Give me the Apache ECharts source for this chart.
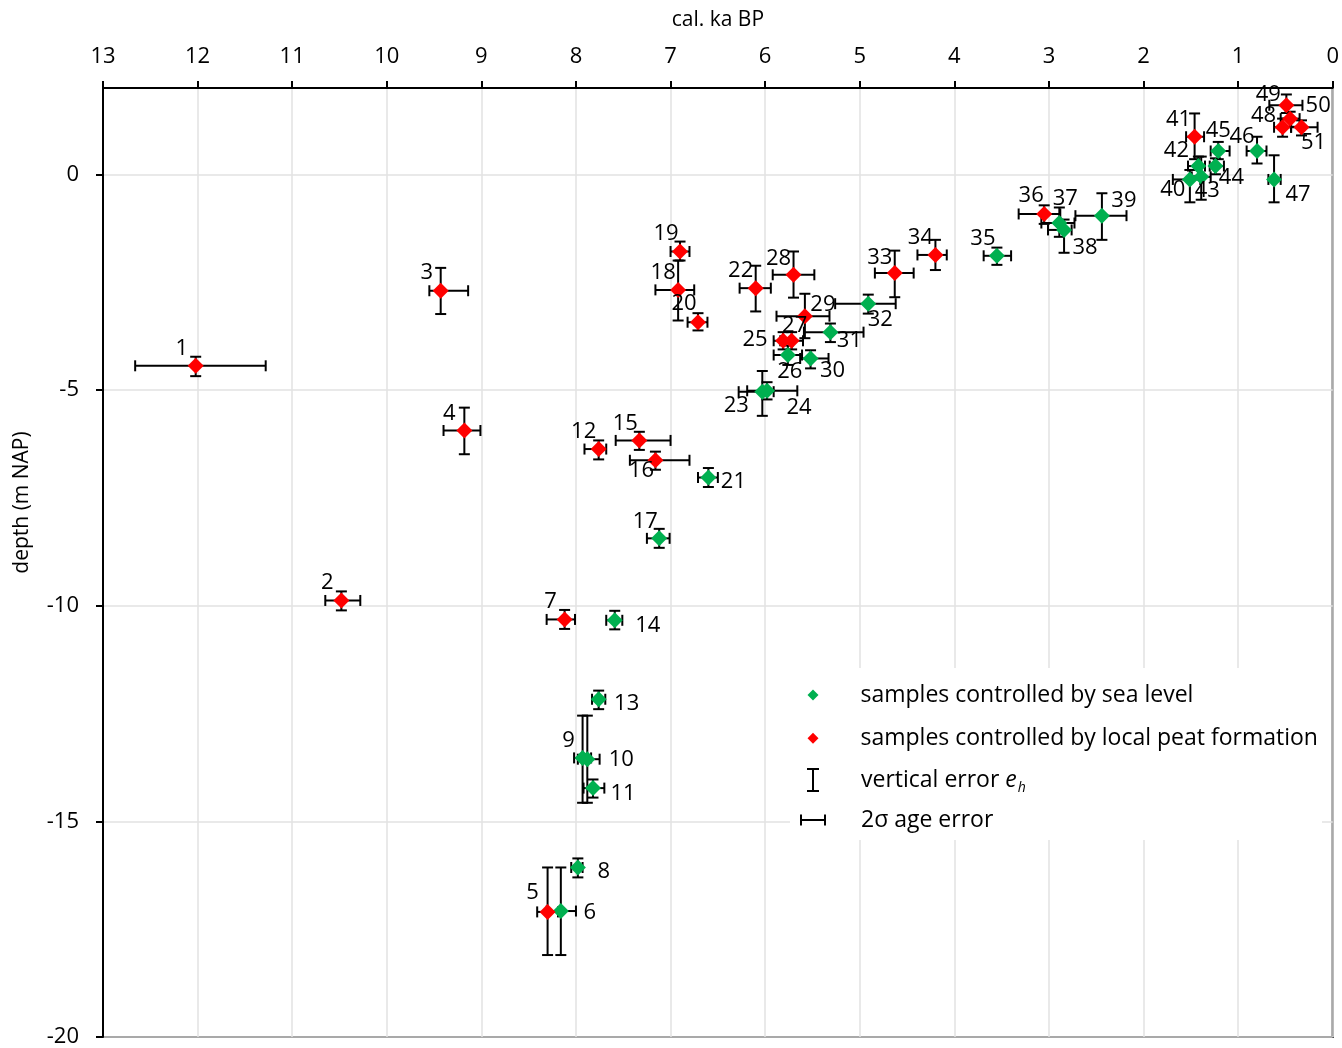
<!DOCTYPE html>
<html><head><meta charset="utf-8">
<script src="https://cdn.jsdelivr.net/npm/echarts@6/dist/echarts.min.js"></script>
<style>html,body{margin:0;padding:0;background:#fff}#c{width:1342px;height:1048px}</style>
</head><body><div id="c"></div>
<script>
// ---------------- data ----------------
const sampleId = [1,2,3,4,5,6,7,8,9,10,11,12,13,14,15,16,17,18,19,20,21,22,23,24,25,26,27,28,29,30,31,32,33,34,35,36,37,38,39,40,41,42,43,44,45,46,47,48,49,50,51];
const control = ['peat','peat','peat','peat','peat','sea','peat','sea','sea','sea','sea','peat','sea','sea','peat','peat','sea','peat','peat','peat','sea','peat','sea','sea','peat','sea','peat','peat','peat','sea','sea','sea','peat','peat','sea','peat','sea','sea','sea','sea','peat','sea','sea','sea','sea','sea','sea','peat','peat','peat','peat'];
const ageKa = [12.02,10.48,9.43,9.18,8.30,8.16,8.12,7.98,7.93,7.88,7.82,7.76,7.76,7.59,7.33,7.16,7.12,6.92,6.90,6.71,6.60,6.10,6.03,5.98,5.81,5.76,5.72,5.70,5.58,5.52,5.31,4.91,4.63,4.20,3.55,3.05,2.89,2.84,2.44,1.51,1.46,1.42,1.39,1.24,1.21,0.80,0.62,0.53,0.49,0.45,0.33];
const ageOld = [12.66,10.65,9.55,9.40,8.41,8.31,8.31,8.05,8.02,7.98,7.92,7.91,7.83,7.68,7.58,7.43,7.25,7.16,7.00,6.82,6.71,6.27,6.28,6.19,5.91,5.91,5.84,5.92,5.88,5.63,5.59,5.26,4.84,4.39,3.69,3.32,3.08,3.01,2.72,1.69,1.55,1.53,1.49,1.30,1.29,0.91,0.68,0.62,0.67,0.55,0.44];
const ageYoung = [11.28,10.28,9.14,9.01,8.19,8.00,8.01,7.93,7.84,7.75,7.70,7.68,7.69,7.51,7.00,6.80,7.01,6.75,6.80,6.61,6.50,5.94,5.91,5.66,5.71,5.61,5.60,5.48,5.32,5.33,4.96,4.62,4.43,4.08,3.40,2.88,2.73,2.76,2.18,1.40,1.36,1.35,1.29,1.15,1.09,0.70,0.55,0.44,0.32,0.35,0.16];
const depthM = [-4.44,-9.88,-2.70,-5.94,-17.10,-17.08,-10.32,-16.07,-13.53,-13.56,-14.23,-6.37,-12.17,-10.34,-6.17,-6.63,-8.44,-2.68,-1.79,-3.43,-7.03,-2.64,-5.04,-5.02,-3.86,-4.19,-3.86,-2.33,-3.29,-4.27,-3.66,-3.00,-2.29,-1.87,-1.89,-0.92,-1.13,-1.29,-0.96,-0.12,0.87,0.19,-0.06,0.19,0.54,0.54,-0.12,1.09,1.60,1.29,1.09];
const depthTop = [-4.23,-9.67,-2.17,-5.41,-16.07,-16.07,-10.10,-15.86,-12.55,-12.55,-14.03,-6.17,-11.97,-10.12,-5.97,-6.43,-8.22,-2.00,-1.56,-3.22,-6.81,-2.12,-4.56,-4.82,-3.66,-3.97,-3.66,-1.79,-2.77,-4.08,-3.46,-2.79,-1.77,-1.52,-1.70,-0.72,-0.77,-1.05,-0.44,0.10,1.41,0.41,0.41,0.37,0.75,0.87,0.44,1.29,1.85,1.45,1.25];
const depthBottom = [-4.68,-10.11,-3.24,-6.49,-18.10,-18.10,-10.54,-16.30,-14.57,-14.57,-14.45,-6.61,-12.40,-10.55,-6.39,-6.85,-8.66,-3.39,-2.00,-3.62,-7.25,-3.18,-5.60,-5.22,-4.06,-4.42,-4.06,-2.86,-3.80,-4.50,-3.89,-3.23,-2.85,-2.22,-2.10,-1.15,-1.45,-1.82,-1.52,-0.65,0.35,-0.05,-0.59,0.00,0.35,0.25,-0.65,0.87,1.42,1.10,0.90];
const xTickValues = [0,1,2,3,4,5,6,7,8,9,10,11,12,13];
const yTickValues = [-20,-15,-10,-5,0];
const seriesNames = ['samples controlled by sea level','samples controlled by local peat formation','vertical error e_h','2σ age error'];
const axisNames = ['cal. ka BP','depth (m NAP)'];

// ---------------- layout (label placement, px from marker centre) ----------------
const labelOffset = [[-14,-17],[-14,-18],[-14,-18],[-15,-17],[-15,-19],[29,2],[-14,-18],[26,4],[-14,-17],[34,1],[30,6],[-15,-17],[28,4],[33,5],[-14,-17],[-14,10],[-14,-17],[-15,-17],[-14,-18],[-14,-18],[25,4],[-15,-17],[-26,14],[32,17],[-28,-1],[2,17],[3,-15],[-15,-16],[18,-11],[22,12],[19,9],[12,16],[-15,-15],[-15,-17],[-14,-17],[-13,-18],[6,-24],[21,18],[22,-15],[-17,10],[-16,-17],[-22,-15],[6,14],[16,12],[0,-20],[-15,-14],[24,15],[-19,-12],[-18,-11],[28,-13],[12,15]];

const FONT = 'Open Sans';
const GREEN = '#00B050', RED = '#FF0000';
const FS = 22;      // label / tick font size
const LFS = 23;     // legend font size
const SYM = 16;
const chart = echarts.init(document.getElementById('c'), null, {renderer:'canvas'});
const idx = sampleId.map((_, i) => i);
const pointItem = i => ({value:[ageKa[i], depthM[i], sampleId[i]], label:{offset: labelOffset[i]}});
const seaData = idx.filter(i => control[i] === 'sea').map(pointItem);
const peatData = idx.filter(i => control[i] === 'peat').map(pointItem);
const vErrData = idx.map(i => [ageKa[i], depthTop[i], depthBottom[i]]);
const hErrData = idx.map(i => [ageOld[i], ageYoung[i], depthM[i]]);

const CAP = 5.5;
const barStyle = {stroke:'#000', lineWidth:2};
function renderV(params, api){
  const a = api.coord([api.value(0), api.value(1)]);
  const b = api.coord([api.value(0), api.value(2)]);
  return {type:'group', children:[
    {type:'line', shape:{x1:a[0],y1:a[1],x2:b[0],y2:b[1]}, style:barStyle},
    {type:'line', shape:{x1:a[0]-CAP,y1:a[1],x2:a[0]+CAP,y2:a[1]}, style:barStyle},
    {type:'line', shape:{x1:b[0]-CAP,y1:b[1],x2:b[0]+CAP,y2:b[1]}, style:barStyle}
  ]};
}
function renderH(params, api){
  const a = api.coord([api.value(0), api.value(2)]);
  const b = api.coord([api.value(1), api.value(2)]);
  return {type:'group', children:[
    {type:'line', shape:{x1:a[0],y1:a[1],x2:b[0],y2:b[1]}, style:barStyle},
    {type:'line', shape:{x1:a[0],y1:a[1]-CAP,x2:a[0],y2:a[1]+CAP}, style:barStyle},
    {type:'line', shape:{x1:b[0],y1:b[1]-CAP,x2:b[0],y2:b[1]+CAP}, style:barStyle}
  ]};
}

const legendRich = (sp) => ({
  sp:{width:sp, fontSize:LFS, fontFamily:FONT},
  n:{fontSize:LFS, fontFamily:FONT, color:'#000'},
  e:{fontSize:LFS, fontFamily:FONT, fontStyle:'italic', color:'#000'},
  h:{fontSize:14, fontFamily:FONT, fontStyle:'italic', color:'#000', padding:[17,0,0,1]}
});
const legendFmt = name => name === seriesNames[2]
  ? '{sp| }{n|vertical error }{e|e}{h|h}'
  : '{sp| }{n|' + name + '}';
const legendText = sp => ({fontSize:LFS, fontFamily:FONT, color:'#000', lineHeight:28, rich:legendRich(sp)});
const legendBase = {orient:'vertical', selectedMode:false, formatter:legendFmt, padding:0};

const labelStyle = {show:true, position:[SYM/2, SYM/2], align:'center', verticalAlign:'middle',
  color:'#000', fontSize:FS, fontFamily:FONT, opacity:1,
  formatter: p => String(p.value[2])};

const option = {
  animation:false,
  backgroundColor:'#fff',
  textStyle:{fontFamily:FONT},
  grid:{left:103, right:7, top:88, bottom:8, show:true, borderColor:'#000', borderWidth:2, backgroundColor:'transparent'},
  xAxis:{type:'value', position:'top', inverse:true, min:0, max:13, interval:0.5,
    name:axisNames[0], nameLocation:'middle', nameGap:57,
    nameTextStyle:{fontSize:21, fontFamily:FONT, color:'#000'},
    axisLine:{show:true, onZero:false, lineStyle:{color:'#000', width:2}},
    axisTick:{show:true, length:7, lineStyle:{color:'#000', width:2}, customValues:xTickValues},
    axisLabel:{fontSize:FS, fontFamily:FONT, color:'#000', margin:20, customValues:xTickValues,
      formatter: v => xTickValues.includes(v) ? String(v) : ''},
    splitLine:{show:true, lineStyle:{color:'#e2e2e2', width:1.5}}},
  yAxis:{type:'value', min:-20, max:2, interval:1,
    name:axisNames[1], nameLocation:'middle', nameGap:70, nameRotate:90,
    nameTextStyle:{fontSize:21, fontFamily:FONT, color:'#000', padding:[0,0,0,120]},
    axisLine:{show:true, onZero:false, lineStyle:{color:'#000', width:2}},
    axisTick:{show:true, length:7, lineStyle:{color:'#000', width:2}, customValues:yTickValues},
    axisLabel:{fontSize:FS, fontFamily:FONT, color:'#000', margin:24, customValues:yTickValues,
      formatter: v => yTickValues.includes(v) ? String(v) : ''},
    splitLine:{show:true, lineStyle:{color:'#e2e2e2', width:1.5}}},
  graphic:[{type:'rect', left:790, top:668, shape:{width:532, height:172}, style:{fill:'#fff'}, z:1, silent:true}],
  legend:[
    Object.assign({}, legendBase, {data:[seriesNames[0], seriesNames[1]], left:807.5, top:681, itemWidth:11, itemHeight:11, itemGap:15.3,
      textStyle:legendText(37)}),
    Object.assign({}, legendBase, {data:[{name:seriesNames[2], icon:'path://M0,0 H12 V2 H7 V22 H12 V24 H0 V22 H5 V2 H0 Z'}], left:807, top:766, itemWidth:12, itemHeight:24,
      textStyle:legendText(37)}),
    Object.assign({}, legendBase, {data:[{name:seriesNames[3], icon:'path://M0,0 H2 V4.5 H24 V0 H26 V11 H24 V6.5 H2 V11 H0 Z'}], left:800, top:806, itemWidth:26, itemHeight:11,
      textStyle:legendText(30)})
  ],
  series:[
    {name:seriesNames[2], type:'custom', renderItem:renderV, data:vErrData, encode:{x:0, y:[1,2]}, itemStyle:{color:'#000'}, z:2, silent:true},
    {name:seriesNames[3], type:'custom', renderItem:renderH, data:hErrData, encode:{x:[0,1], y:2}, itemStyle:{color:'#000'}, z:2, silent:true},
    {name:seriesNames[0], type:'scatter', symbol:'diamond', symbolSize:SYM, itemStyle:{color:GREEN, opacity:1}, data:seaData, label:labelStyle, z:3},
    {name:seriesNames[1], type:'scatter', symbol:'diamond', symbolSize:SYM, itemStyle:{color:RED, opacity:1}, data:peatData, label:labelStyle, z:3}
  ]
};
chart.setOption(option);
</script>
</body></html>
